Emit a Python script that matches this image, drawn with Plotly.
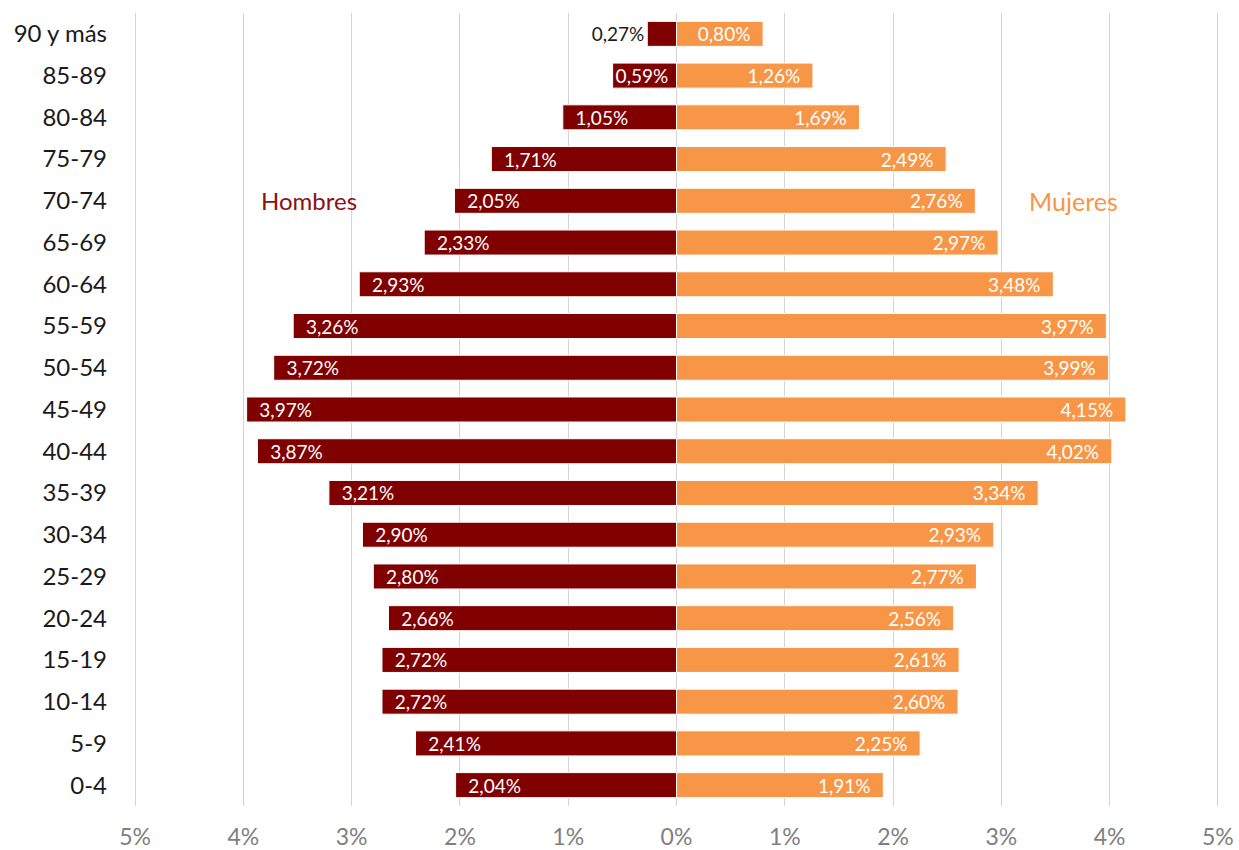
import plotly.graph_objects as go

# Age groups, bottom to top
categories = ["0-4", "5-9", "10-14", "15-19", "20-24", "25-29", "30-34", "35-39",
              "40-44", "45-49", "50-54", "55-59", "60-64", "65-69", "70-74",
              "75-79", "80-84", "85-89", "90 y más"]

# Bar lengths (% of population) as drawn
hombres = [2.04, 2.41, 2.72, 2.72, 2.66, 2.80, 2.90, 3.21, 3.87, 3.97, 3.72,
           3.54, 2.93, 2.33, 2.05, 1.71, 1.05, 0.59, 0.27]
mujeres = [1.91, 2.25, 2.60, 2.61, 2.56, 2.77, 2.93, 3.34, 4.02, 4.15, 3.99,
           3.97, 3.48, 2.97, 2.76, 2.49, 1.69, 1.26, 0.80]

# Data labels as printed on the chart
hombres_labels = ["2,04%", "2,41%", "2,72%", "2,72%", "2,66%", "2,80%", "2,90%",
                  "3,21%", "3,87%", "3,97%", "3,72%", "3,26%", "2,93%", "2,33%",
                  "2,05%", "1,71%", "1,05%", "0,59%", "0,27%"]
mujeres_labels = ["1,91%", "2,25%", "2,60%", "2,61%", "2,56%", "2,77%", "2,93%",
                  "3,34%", "4,02%", "4,15%", "3,99%", "3,97%", "3,48%", "2,97%",
                  "2,76%", "2,49%", "1,69%", "1,26%", "0,80%"]

tick_vals = [-5, -4, -3, -2, -1, 0, 1, 2, 3, 4, 5]
tick_text = ["5%", "4%", "3%", "2%", "1%", "0%", "1%", "2%", "3%", "4%", "5%"]

FONT = "Lato"
PAD = "\u00a0\u00a0"

h_text, h_pos = [], []
for v, lab in zip(hombres, hombres_labels):
    if v < 0.4:
        h_text.append(lab)
        h_pos.append("outside")
    elif v < 0.8:
        h_text.append(lab)
        h_pos.append("inside")
    else:
        h_text.append(PAD + lab)
        h_pos.append("inside")

m_text = [lab + PAD for lab in mujeres_labels]

fig = go.Figure()
fig.add_trace(go.Bar(
    y=categories, x=[-v for v in hombres], orientation="h", name="Hombres",
    marker=dict(color="#800000", line=dict(color="white", width=1)),
    text=h_text, textposition=h_pos, insidetextanchor="end",
    insidetextfont=dict(color="white", size=19, family=FONT),
    outsidetextfont=dict(color="#1a1a1a", size=19, family=FONT),
    cliponaxis=False, hoverinfo="skip",
))
fig.add_trace(go.Bar(
    y=categories, x=mujeres, orientation="h", name="Mujeres",
    marker=dict(color="#F79646", line=dict(color="white", width=1)),
    text=m_text, textposition="inside", insidetextanchor="end",
    insidetextfont=dict(color="white", size=19, family=FONT),
    cliponaxis=False, hoverinfo="skip",
))

fig.add_annotation(x=-3.39, y="70-74", text="Hombres", showarrow=False,
                   font=dict(color="#8B1212", size=24, family=FONT))
fig.add_annotation(x=3.67, y="70-74", text="Mujeres", showarrow=False,
                   font=dict(color="#F79646", size=25, family=FONT))

fig.update_layout(
    width=1239, height=850,
    barmode="relative", bargap=0.4,
    showlegend=False,
    plot_bgcolor="white", paper_bgcolor="white",
    margin=dict(l=134, r=20, t=13, b=44),
    uniformtext=dict(minsize=19, mode="show"),
)
fig.update_xaxes(range=[-5.01, 5.01], tickvals=tick_vals, ticktext=tick_text,
                 showgrid=True, gridcolor="#D4D4D4", gridwidth=1,
                 zeroline=True, zerolinecolor="#D4D4D4", zerolinewidth=1,
                 showline=False, ticks="", ticklabelstandoff=15,
                 automargin=False,
                 tickfont=dict(color="#7F7F7F", size=23, family=FONT),
                 fixedrange=True)
fig.update_yaxes(categoryorder="array", categoryarray=categories,
                 showgrid=False, zeroline=False, showline=False, ticks="",
                 ticklabelstandoff=26, automargin=False,
                 tickfont=dict(color="#1a1a1a", size=24, family=FONT),
                 fixedrange=True)

fig.write_html("out.html",
               config={"displayModeBar": False},
               post_script="document.body.style.margin='0';document.body.style.overflow='hidden';")
